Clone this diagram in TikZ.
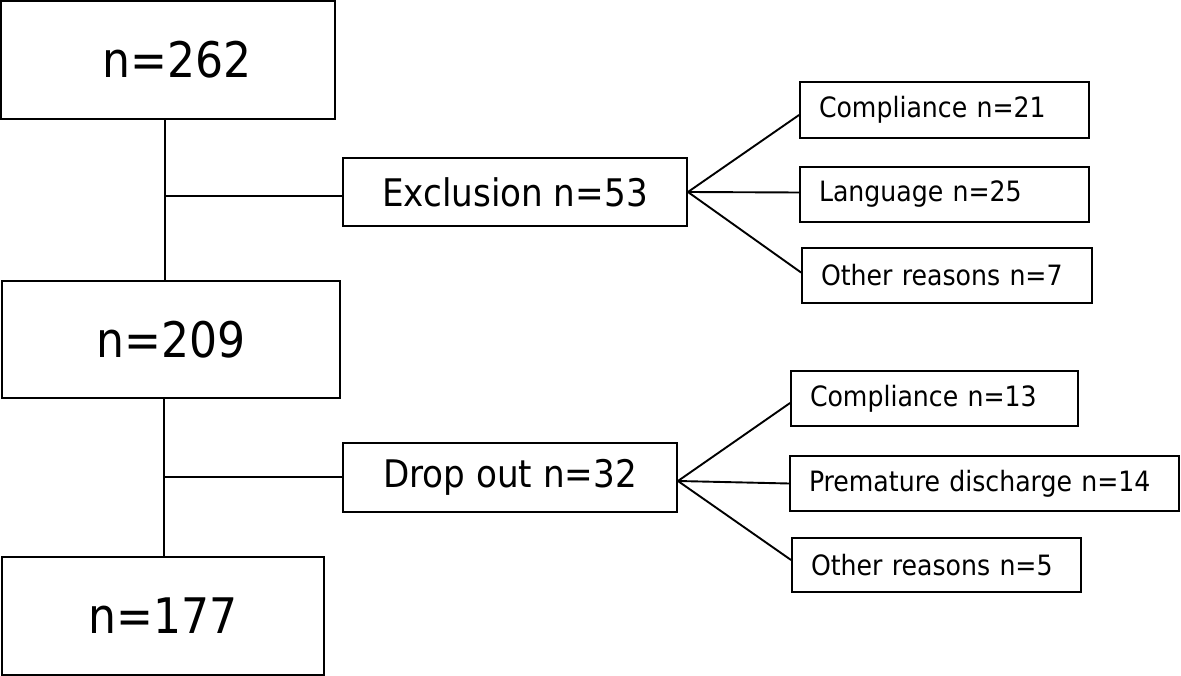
\documentclass[tikz,border=0pt]{standalone}
\usepackage{fontspec}
\setmainfont{DejaVu Sans Condensed}
\begin{document}
\begin{tikzpicture}[x=1pt,y=-1pt,
  box/.style={draw=black, line width=1.9pt, inner sep=0pt, fill=white},
  big/.style={box, font=\fontsize{49}{56}\selectfont},
  mid/.style={box, font=\fontsize{38}{44}\selectfont},
  small/.style={box, font=\fontsize{28}{32}\selectfont, align=left, inner xsep=19pt},
  conn/.style={line width=1.9pt}]
\useasboundingbox (0,0) rectangle (1181,676);
% main boxes
\node[big, minimum width=334pt, minimum height=118pt] (a) at (168,60) {\hspace*{18pt}n=262};
\node[big, minimum width=338pt, minimum height=117pt] (b) at (171,339.5) {n=209};
\node[big, minimum width=322pt, minimum height=118pt] (c) at (163,616) {n=177};
\node[mid, minimum width=344pt, minimum height=68pt] (excl) at (515,192) {Exclusion n=53};
\node[mid, minimum width=334pt, minimum height=69pt] (drop) at (510,477.5) {Drop out n=32};
% sub boxes
\node[small, text width=251pt, minimum height=56pt] (c21) at (944.5,110) {Compliance n=21};
\node[small, text width=251pt, minimum height=55pt] (lang) at (944.5,194.5) {Language n=25};
\node[small, text width=252pt, minimum height=55pt] (oth7) at (947,275.5) {Other reasons n=7};
\node[small, text width=249pt, minimum height=55pt] (c13) at (934.5,398.5) {Compliance n=13};
\node[small, text width=351pt, minimum height=55pt] (prem) at (984.5,483.5) {Premature discharge n=14};
\node[small, text width=251pt, minimum height=54pt] (oth5) at (936.5,565) {Other reasons n=5};
% spine connectors
\draw[conn] ([xshift=-3pt]a.south) -- ([xshift=-3pt]a.south |- b.north);
\draw[conn] ([yshift=-4pt]excl.west) -- ([yshift=-4pt,xshift=-3pt]excl.west -| a.south);
\draw[conn] ([xshift=-7pt]b.south) -- ([xshift=-7pt]b.south |- c.north);
\draw[conn] ([yshift=0.5pt]drop.west) -- ([yshift=0.5pt,xshift=-7pt]drop.west -| b.south);
% fans
\draw[conn] (excl.east) -- ([yshift=-5pt]c21.west);
\draw[conn] (excl.east) -- ([yshift=2pt]lang.west);
\draw[conn] (excl.east) -- ([yshift=3pt]oth7.west);
\draw[conn] ([yshift=-3.5pt]drop.east) -- ([yshift=-4.5pt]c13.west);
\draw[conn] ([yshift=-3.5pt]drop.east) -- (prem.west);
\draw[conn] ([yshift=-3.5pt]drop.east) -- ([yshift=5pt]oth5.west);
\end{tikzpicture}
\end{document}
